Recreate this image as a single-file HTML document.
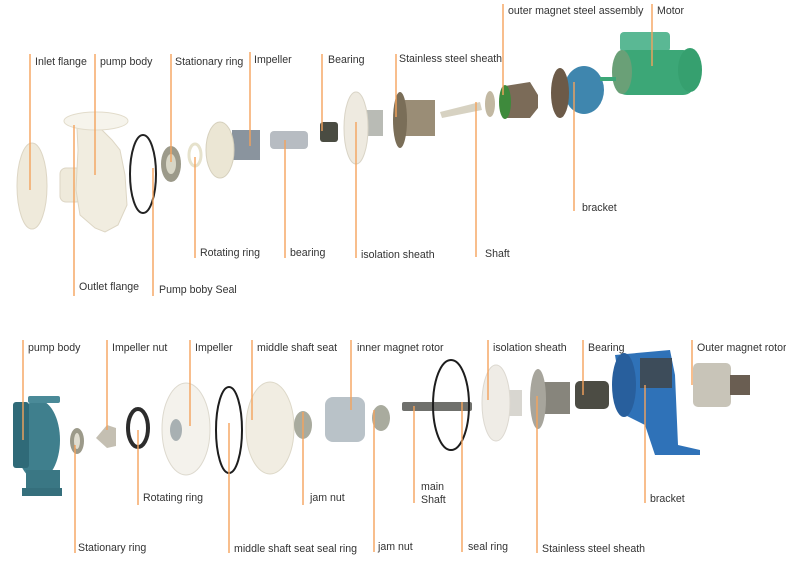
<!DOCTYPE html>
<html><head><meta charset="utf-8"><style>
html,body{margin:0;padding:0;background:#fff;}
svg{display:block;}
text{font-family:"Liberation Sans",sans-serif;font-size:10.6px;fill:#333;}
.l{stroke:#f4a35c;stroke-width:1.4;}
</style></head><body>
<svg width="786" height="562" viewBox="0 0 786 562" xmlns="http://www.w3.org/2000/svg">
<rect width="786" height="562" fill="#fff"/>
<!-- ===== TOP ROW PARTS ===== -->
<ellipse cx="32" cy="186" rx="15" ry="43" fill="#efeadb" stroke="#ddd6c4"/>
<rect x="60" y="168" width="22" height="34" rx="6" fill="#efeadb" stroke="#ddd6c4"/>
<path d="M77 128 L100 128 L112 140 L120 150 L125 175 L127 205 L118 225 L105 232 L95 228 L80 215 L76 190 L78 150 Z" fill="#f1ede0" stroke="#ddd6c4"/>
<ellipse cx="96" cy="121" rx="32" ry="9" fill="#f6f4ec" stroke="#e2dccb"/>
<ellipse cx="143" cy="174" rx="13" ry="39" fill="none" stroke="#222" stroke-width="2"/>
<ellipse cx="171" cy="164" rx="10" ry="18" fill="#9c9a8a"/>
<ellipse cx="171" cy="164" rx="5" ry="10" fill="#d8d6c6"/>
<ellipse cx="195" cy="155" rx="6" ry="11" fill="none" stroke="#e6e2cc" stroke-width="3"/>
<rect x="232" y="130" width="28" height="30" fill="#8a949e"/>
<ellipse cx="220" cy="150" rx="14" ry="28" fill="#ebe6d4" stroke="#d6d0bd"/>
<rect x="270" y="131" width="38" height="18" rx="4" fill="#b7bcc2"/>
<rect x="320" y="122" width="18" height="20" rx="3" fill="#4a4c42"/>
<rect x="365" y="110" width="18" height="26" fill="#b9bbb5"/>
<ellipse cx="356" cy="128" rx="12" ry="36" fill="#eeeae0" stroke="#d9d4c6"/>
<rect x="405" y="100" width="30" height="36" fill="#9a8d76"/>
<ellipse cx="400" cy="120" rx="7" ry="28" fill="#7a6e58"/>
<path d="M440 112 L480 102 L482 110 L442 118 Z" fill="#d7d2c2"/>
<ellipse cx="490" cy="104" rx="5" ry="13" fill="#c2b8a2"/>
<path d="M505 86 L530 82 L538 95 L538 108 L530 118 L505 118 Z" fill="#7b6b58"/>
<ellipse cx="505" cy="102" rx="6" ry="17" fill="#3e8a3c"/>
<ellipse cx="584" cy="90" rx="20" ry="24" fill="#3f86ae"/>
<ellipse cx="560" cy="93" rx="9" ry="25" fill="#6c5a48"/>
<rect x="620" y="32" width="50" height="20" rx="4" fill="#5ab894"/>
<rect x="615" y="50" width="80" height="45" rx="12" fill="#3ca777"/>
<ellipse cx="690" cy="70" rx="12" ry="22" fill="#36a06f"/>
<ellipse cx="622" cy="72" rx="10" ry="22" fill="#6aa077"/>
<rect x="600" y="77" width="16" height="4" fill="#3ca777"/>
<!-- ===== BOTTOM ROW PARTS ===== -->
<ellipse cx="38" cy="440" rx="22" ry="40" fill="#3f7f8d"/>
<rect x="26" y="470" width="34" height="25" fill="#3a7784"/>
<rect x="22" y="488" width="40" height="8" fill="#356f7c"/>
<rect x="13" y="402" width="16" height="66" rx="3" fill="#2f6a78"/>
<rect x="28" y="396" width="32" height="7" rx="2" fill="#4a8a98"/>
<ellipse cx="77" cy="441" rx="7" ry="13" fill="#9c9a8a"/>
<ellipse cx="77" cy="441" rx="3" ry="8" fill="#e0ddd0"/>
<path d="M96 438 L107 425 L116 428 L116 446 L107 448 Z" fill="#c4bfb2"/>
<ellipse cx="138" cy="428" rx="10" ry="19" fill="none" stroke="#2c2c2c" stroke-width="4"/>
<ellipse cx="186" cy="429" rx="24" ry="46" fill="#f4f2ec" stroke="#ddd9ce"/>
<ellipse cx="176" cy="430" rx="6" ry="11" fill="#a8b0b2"/>
<ellipse cx="229" cy="430" rx="13" ry="43" fill="none" stroke="#1d1d1d" stroke-width="2"/>
<ellipse cx="270" cy="428" rx="24" ry="46" fill="#f1ede2" stroke="#ddd8c8"/>
<ellipse cx="303" cy="425" rx="9" ry="14" fill="#a9ab9e"/>
<rect x="325" y="397" width="40" height="45" rx="8" fill="#b9c2c8"/>
<ellipse cx="381" cy="418" rx="9" ry="13" fill="#a9ab9e"/>
<rect x="402" y="402" width="70" height="9" rx="2" fill="#6f706c"/>
<ellipse cx="451" cy="405" rx="18" ry="45" fill="none" stroke="#1d1d1d" stroke-width="2"/>
<rect x="500" y="390" width="22" height="26" fill="#d8d6d0"/>
<ellipse cx="496" cy="403" rx="14" ry="38" fill="#efece6" stroke="#dcd8d0"/>
<rect x="540" y="382" width="30" height="32" fill="#87857c"/>
<ellipse cx="538" cy="399" rx="8" ry="30" fill="#a7a59c"/>
<rect x="575" y="381" width="34" height="28" rx="5" fill="#4c4c44"/>
<path d="M615 355 L670 350 L675 375 L678 445 L700 450 L700 455 L655 455 L645 425 L625 415 Z" fill="#2f72b8"/>
<ellipse cx="624" cy="385" rx="12" ry="32" fill="#285f9d"/>
<rect x="640" y="358" width="32" height="30" fill="#3d4c5a"/>
<rect x="693" y="363" width="38" height="44" rx="5" fill="#c8c4b8"/>
<rect x="730" y="375" width="20" height="20" fill="#6a5e52"/>
<!-- ===== LEADER LINES ===== -->
<g class="l">
<line x1="30" y1="54" x2="30" y2="190"/>
<line x1="95" y1="54" x2="95" y2="175"/>
<line x1="171" y1="54" x2="171" y2="162"/>
<line x1="250" y1="52" x2="250" y2="146"/>
<line x1="322" y1="54" x2="322" y2="131"/>
<line x1="396" y1="54" x2="396" y2="117"/>
<line x1="503" y1="4" x2="503" y2="95"/>
<line x1="652" y1="4" x2="652" y2="66"/>
<line x1="574" y1="82" x2="574" y2="211"/>
<line x1="476" y1="102" x2="476" y2="257"/>
<line x1="356" y1="122" x2="356" y2="258"/>
<line x1="285" y1="140" x2="285" y2="258"/>
<line x1="195" y1="157" x2="195" y2="258"/>
<line x1="153" y1="168" x2="153" y2="296"/>
<line x1="74" y1="125" x2="74" y2="296"/>
<line x1="23" y1="340" x2="23" y2="440"/>
<line x1="107" y1="340" x2="107" y2="430"/>
<line x1="190" y1="340" x2="190" y2="426"/>
<line x1="252" y1="340" x2="252" y2="420"/>
<line x1="351" y1="340" x2="351" y2="410"/>
<line x1="488" y1="340" x2="488" y2="400"/>
<line x1="583" y1="340" x2="583" y2="395"/>
<line x1="692" y1="340" x2="692" y2="385"/>
<line x1="75" y1="445" x2="75" y2="553"/>
<line x1="138" y1="430" x2="138" y2="505"/>
<line x1="229" y1="423" x2="229" y2="553"/>
<line x1="303" y1="412" x2="303" y2="505"/>
<line x1="374" y1="410" x2="374" y2="552"/>
<line x1="414" y1="406" x2="414" y2="503"/>
<line x1="462" y1="402" x2="462" y2="552"/>
<line x1="537" y1="396" x2="537" y2="553"/>
<line x1="645" y1="385" x2="645" y2="503"/>
</g>
<!-- ===== LABELS ===== -->
<text x="35" y="65">Inlet flange</text>
<text x="100" y="65">pump body</text>
<text x="175" y="65">Stationary ring</text>
<text x="254" y="63">Impeller</text>
<text x="328" y="63">Bearing</text>
<text x="399" y="62">Stainless steel sheath</text>
<text x="508" y="14">outer magnet steel assembly</text>
<text x="657" y="14">Motor</text>
<text x="582" y="211">bracket</text>
<text x="485" y="257">Shaft</text>
<text x="361" y="258">isolation sheath</text>
<text x="290" y="256">bearing</text>
<text x="200" y="256">Rotating ring</text>
<text x="159" y="293">Pump boby Seal</text>
<text x="79" y="290">Outlet flange</text>
<text x="28" y="351">pump body</text>
<text x="112" y="351">Impeller nut</text>
<text x="195" y="351">Impeller</text>
<text x="257" y="351">middle shaft seat</text>
<text x="357" y="351">inner magnet rotor</text>
<text x="493" y="351">isolation sheath</text>
<text x="588" y="351">Bearing</text>
<text x="697" y="351">Outer magnet rotor</text>
<text x="78" y="551">Stationary ring</text>
<text x="143" y="501">Rotating ring</text>
<text x="234" y="552">middle shaft seat seal ring</text>
<text x="310" y="501">jam nut</text>
<text x="378" y="550">jam nut</text>
<text x="421" y="490">main</text>
<text x="421" y="503">Shaft</text>
<text x="468" y="550">seal ring</text>
<text x="542" y="552">Stainless steel sheath</text>
<text x="650" y="502">bracket</text>
</svg>
</body></html>
